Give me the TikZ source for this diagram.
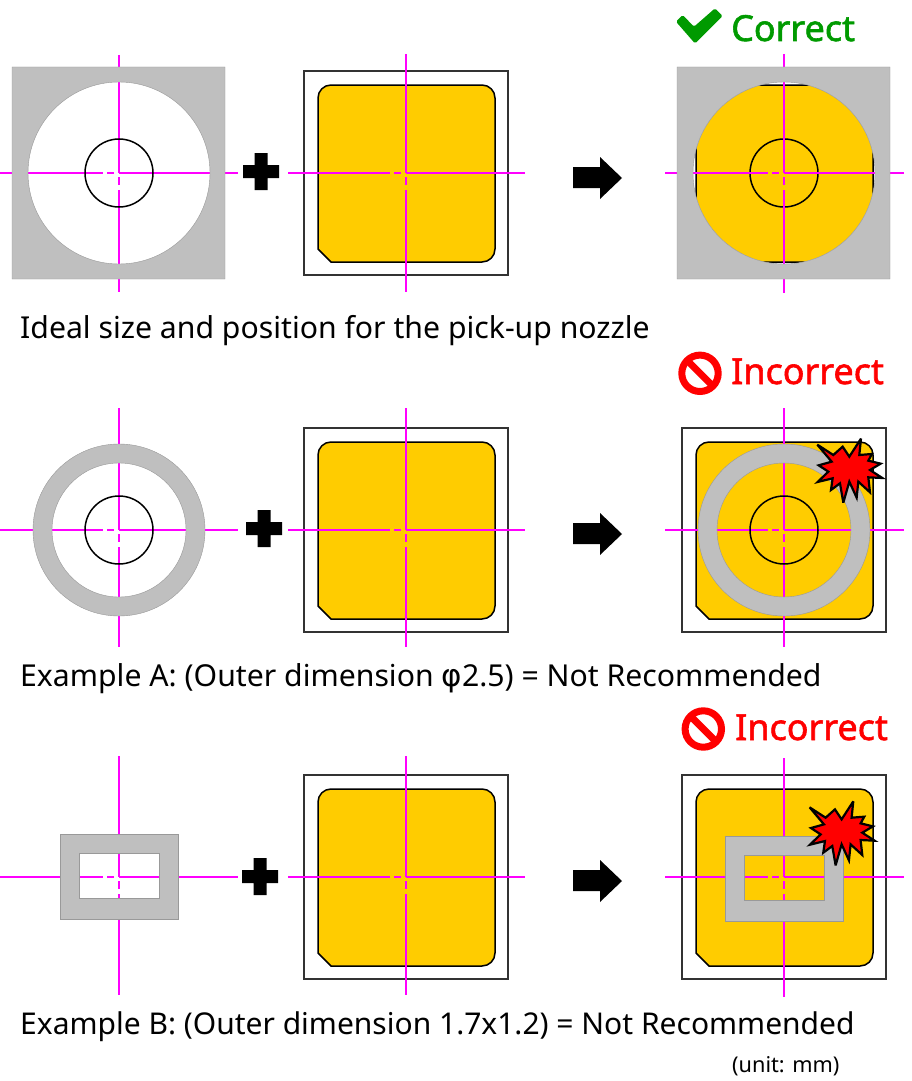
\documentclass[tikz,border=0pt]{standalone}
\usepackage{fontspec}
\setmainfont{Noto Sans}
\newfontfamily\headfont[FakeBold=1.6]{Noto Sans}
\newfontfamily\phifont{DejaVu Sans}
\definecolor{padyellow}{HTML}{FFCC00}
\definecolor{nozgray}{HTML}{BFBFBF}
\definecolor{okgreen}{HTML}{009A00}
\definecolor{linemagenta}{HTML}{FF00FF}
\tikzset{
  centreline/.style={draw=linemagenta,line width=1.2pt},
  pkgframe/.style={draw=black!80,line width=1.4pt,fill=white},
  pad/.style={draw=black,line width=1.5pt,fill=padyellow},
  nozzle/.style={fill=nozgray,draw=black!40,line width=0.4pt,even odd rule},
  bore/.style={draw=black,line width=1.5pt},
  caption/.style={anchor=base west,inner sep=0pt,font=\fontsize{30.2}{34}\selectfont},
  verdict/.style={anchor=base west,inner sep=0pt,font=\headfont\fontsize{35.9}{40}\selectfont},
  burst/.style={draw=black,fill=red,line width=2.2pt,miter limit=4},
}
% centre cross: cx, cy, left, right, top, bottom (absolute)
\newcommand{\ccross}[6]{%
  \draw[centreline] (#3,#2)--({#1-16},#2) ({#1-12},#2)--({#1-5},#2) (#1,#2)--(#4,#2)
    (#1,#5)--(#1,#2) (#1,{#2+4})--(#1,{#2+12}) (#1,{#2+17})--(#1,#6);}
\newcommand{\padpath}{(-88,76)--(-88,-75) .. controls (-88,-82.2) and (-82.2,-88) .. (-75,-88) -- (76,-88) .. controls (83.2,-88) and (89,-82.2) .. (89,-75) -- (89,76) .. controls (89,83.2) and (83.2,89) .. (76,89) -- (-75,89) -- cycle}
\newcommand{\package}[2]{%
  \begin{scope}[shift={(#1,#2)}]
    \draw[pkgframe] (-102,-102) rectangle (102,102);
    \draw[pad] \padpath;
  \end{scope}}
\newcommand{\plusmark}[2]{%
  \fill[black,shift={(#1,#2)}] (-6.5,-19)--(6.5,-19)--(6.5,-7)--(18,-7)--(18,6)--(6.5,6)--(6.5,18)--(-6.5,18)--(-6.5,6)--(-18,6)--(-18,-7)--(-6.5,-7)--cycle;}
\newcommand{\goarrow}[1]{%
  \fill[black,shift={(573,#1)}] (0,-11)--(27,-11)--(27,-21)--(49,0)--(27,21)--(27,10)--(0,10)--cycle;}
\newcommand{\noentry}[2]{%
  \begin{scope}[shift={(#1,#2)}]
    \draw[red,line width=7pt] (0,0) circle (18.2);
    \draw[red,line width=7pt] (-13,-13)--(13,13);
  \end{scope}}
\newcommand{\burstshape}[2]{%
  \begin{scope}[shift={(#1,#2)},x=0.3333pt,y=-0.3333pt]
    \draw[burst] (472,314)--(520,345)--(548,320)--(568,350)--(603,296)--(598,345)--(636,342)--(625,362)--(662,371)--(630,390)--(667,414)--(625,412)--(630,457)--(595,425)--(590,473)--(568,425)--(550,488)--(540,430)--(513,450)--(518,415)--(473,426)--(505,395)--(476,376)--(515,365)--cycle;
  \end{scope}}
\begin{document}
\begin{tikzpicture}[x=1pt,y=-1pt]
\useasboundingbox (0,0) rectangle (912,1081);
% --- row 1
\ccross{119}{173}{0}{238}{55}{292}
\begin{scope}[shift={(119,173)}]
  \draw[nozzle] (-107,-106) rectangle (106,106) (0,0) circle (91);
  \draw[bore] (0,0) circle (34);
\end{scope}
\plusmark{261}{172}
\package{406}{173}
\ccross{406}{173}{288}{525}{54}{292}
\goarrow{178}
\begin{scope}[shift={(784,173)}]
  \begin{scope}
    \clip (0,0) circle (91);
    \draw[pad] \padpath;
  \end{scope}
  \draw[bore] (0,0) circle (34);
\end{scope}
\ccross{784}{173}{665}{904}{54}{293}
\begin{scope}[shift={(784,173)}]
  \draw[nozzle] (-107,-106) rectangle (106,106) (0,0) circle (91);
\end{scope}
\fill[okgreen,rounded corners=1.5pt] (676,21.7)--(682.7,15)--(694,26.7)--(715,8.3)--(722.7,16)--(695,43.5)--cycle;
\node[verdict,text=okgreen] (correct) at (731,41) {Correct};
\node[caption] (cap1) at (20,338) {Ideal size and position for the pick-up nozzle};
% --- row 2
\ccross{119}{530}{0}{238}{408}{647}
\begin{scope}[shift={(119,530)}]
  \draw[nozzle] (0,0) circle (86) (0,0) circle (67);
  \draw[bore] (0,0) circle (34);
\end{scope}
\plusmark{264}{529}
\package{406}{530}
\ccross{406}{530}{288}{525}{408}{647}
\goarrow{534}
\package{784}{530}
\ccross{784}{530}{665}{904}{408}{647}
\begin{scope}[shift={(784,530)}]
  \draw[nozzle] (0,0) circle (86) (0,0) circle (67);
  \draw[bore] (0,0) circle (34);
\end{scope}
\burstshape{660}{340}
\noentry{700}{373.3}
\node[verdict,text=red] (bad1) at (731,384) {Incorrect};
\node[caption] (cap2) at (20,686) {Example A: (Outer dimension {\phifont\fontsize{31}{34}\selectfont φ}2.5) = Not Recommended};
% --- row 3
\ccross{119}{877}{0}{238}{756}{995}
\draw[nozzle] (60,834) rectangle (178,919) (79,853) rectangle (159,898);
\plusmark{260}{877}
\package{406}{877}
\ccross{406}{877}{288}{525}{756}{995}
\goarrow{881}
\package{784}{877}
\ccross{784}{877}{665}{904}{758}{997}
\draw[nozzle] (725,836) rectangle (843,921) (744,855) rectangle (824,900);
\burstshape{652.3}{702.7}
\noentry{703.3}{729}
\node[verdict,text=red] (bad2) at (735,740) {Incorrect};
\node[caption,font=\fontsize{30}{34}\selectfont] (cap3) at (20,1034) {Example B: (Outer dimension 1.7x1.2) = Not Recommended};
\node[anchor=base west,inner sep=0pt,font=\fontsize{21.7}{24}\selectfont] (unit) at (732,1072) {(unit: mm)};
\end{tikzpicture}
\end{document}
